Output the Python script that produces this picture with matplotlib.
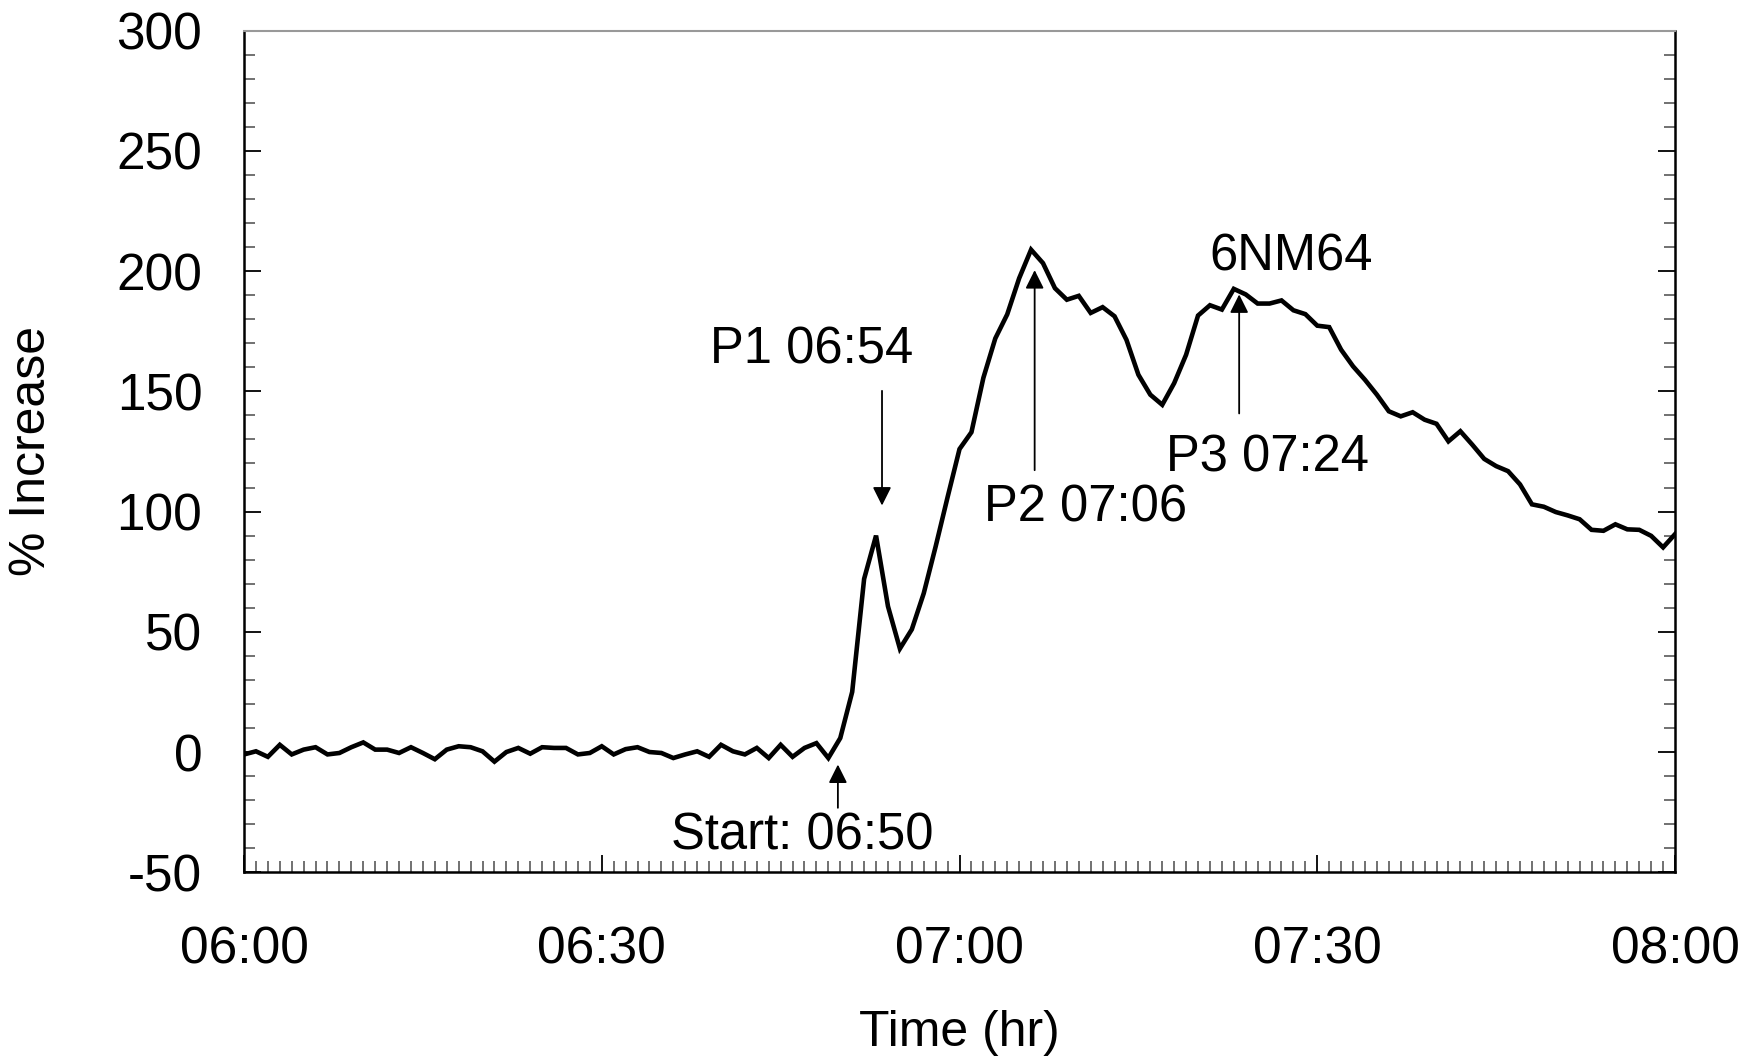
import matplotlib.pyplot as plt
from matplotlib.ticker import MultipleLocator

plt.rcParams["font.family"] = ["Liberation Sans", "DejaVu Sans"]
plt.rcParams["axes.unicode_minus"] = False

# minutes after 06:00, one sample per minute
minutes = list(range(121))
increase = [
    -1, 0.3, -2, 3, -1, 1, 2, -1, -0.4, 2,
    4, 1, 1, -0.4, 2, -0.4, -3, 1, 2.4, 2,
    0.3, -4, 0, 1.7, -0.7, 2, 1.7, 1.7, -1, -0.4,
    2.4, -1, 1.2, 2, 0, -0.4, -2.5, -1, 0.3, -2,
    3, 0.3, -1, 1.7, -2.5, 3, -2, 1.7, 3.7, -2.5,
    5.8, 25, 72, 90, 60.6, 43, 51, 66, 85.5, 106,
    126, 133, 155.6, 172, 182, 197, 208.9, 203.3, 192.9, 188.1,
    189.7, 182.6, 185, 181.2, 171.4, 156.9, 148.6, 144.4, 153.4, 165.2,
    181.5, 185.8, 184, 192.6, 190.3, 186.5, 186.5, 187.8, 183.7, 182.1,
    177.3, 176.7, 167.3, 160.4, 154.8, 148.6, 141.7, 139.6, 141.3, 138.2,
    136.5, 129.2, 133.4, 127.8, 121.9, 118.9, 116.8, 111.3, 103, 102,
    99.8, 98.4, 96.8, 92.4, 92, 94.7, 92.6, 92.4, 89.9, 85.1,
    90.6,
]

tick_pos = [0, 30, 60, 90, 120]
tick_labels = ["06:00", "06:30", "07:00", "07:30", "08:00"]

fig = plt.figure(figsize=(17.43, 10.56), dpi=100)
ax = fig.add_axes([0.140, 0.174, 0.821, 0.797])

ax.plot(minutes, increase, color="black", linewidth=3.3, solid_joinstyle="miter")

ax.set_xlim(0, 120)
ax.set_ylim(-50, 300)
ax.set_xticks(tick_pos)
ax.set_xticklabels(tick_labels)
ax.xaxis.set_minor_locator(MultipleLocator(1))
ax.yaxis.set_major_locator(MultipleLocator(50))
ax.yaxis.set_minor_locator(MultipleLocator(10))

ax.tick_params(axis="both", which="major", direction="in", length=12,
               width=1.3, color="black", labelsize=37)
ax.tick_params(axis="both", which="minor", direction="in", length=8,
               width=1.3, color="#666666")
ax.tick_params(axis="y", which="both", right=True, pad=30)
ax.tick_params(axis="x", which="both", top=False, pad=38)

for side in ["left", "bottom", "right"]:
    ax.spines[side].set_linewidth(1.8)
    ax.spines[side].set_color("black")
ax.spines["top"].set_linewidth(1.5)
ax.spines["top"].set_color("#999999")

ax.set_xlabel("Time (hr)", fontsize=36, labelpad=26)
ax.set_ylabel("% Increase", fontsize=36, labelpad=44)

arrow = dict(arrowstyle="-|>", color="black", lw=1.3, mutation_scale=28,
             shrinkA=0, shrinkB=0)

ax.annotate("", xy=(53.5, 102.5), xytext=(53.5, 150.2), arrowprops=arrow)
ax.text(47.6, 167, "P1 06:54", fontsize=36.5, ha="center", va="center")

ax.annotate("", xy=(66.3, 200.4), xytext=(66.3, 117.2), arrowprops=arrow)
ax.text(70.6, 101.5, "P2 07:06", fontsize=36.5, ha="center", va="center")

ax.annotate("", xy=(83.45, 190.3), xytext=(83.45, 140.8), arrowprops=arrow)
ax.text(85.8, 122.3, "P3 07:24", fontsize=36.5, ha="center", va="center")

ax.text(87.8, 206, "6NM64", fontsize=36.5, ha="center", va="center")

ax.annotate("", xy=(49.8, -5.2), xytext=(49.8, -23.2), arrowprops=arrow)
ax.text(46.8, -35, "Start: 06:50", fontsize=36.5, ha="center", va="center")

fig.savefig("out.png", dpi=100)
